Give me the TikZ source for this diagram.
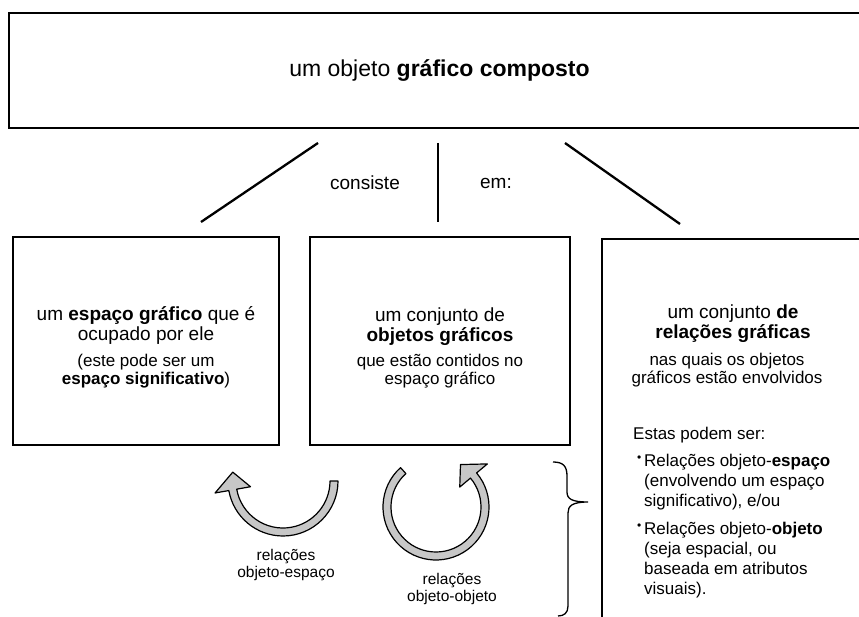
\documentclass[tikz,border=0pt]{standalone}
\usepackage{fontspec}
\setmainfont{Liberation Sans}
\newcommand{\itembullet}{\llap{\raisebox{5pt}{\fontsize{12}{12}\selectfont\textbullet}\,}}
\begin{document}
\begin{tikzpicture}[x=1pt,y=-1pt,
    box/.style={draw, line width=1.4pt, inner sep=0pt},
    headtxt/.style={align=center, inner sep=0pt, font=\fontsize{19}{20}\selectfont},
    subtxt/.style={align=center, inner sep=0pt, font=\fontsize{17}{18.5}\selectfont},
    listtxt/.style={align=left, inner sep=0pt, font=\fontsize{17}{20}\selectfont},
    reltxt/.style={align=center, inner sep=0pt, font=\fontsize{15.5}{17}\selectfont},
    conn/.style={line width=2.3pt},
    arrowband/.style={fill=black!22, draw=black, line width=1.2pt, line join=round}]
\useasboundingbox (0,0) rectangle (859,617);

% caixas
\node[box, minimum width=861pt, minimum height=115pt, font=\fontsize{23}{26}\selectfont]
    (obj) at (439.5,70.5) {um objeto \textbf{gráfico composto}};
\node[box, minimum width=266pt, minimum height=208pt] (espaco) at (146,341) {};
\node[box, minimum width=260pt, minimum height=208pt] (objetos) at (440,341) {};
\draw[line width=1.4pt] (863,239) -- (602,239) -- (602,630);

% textos das caixas
\node[headtxt] (espacoA) at (146,325) {um \textbf{espaço gráfico} que é\\ocupado por ele};
\node[subtxt] (espacoB) at (146,371) {(este pode ser um\\\textbf{espaço significativo})};
\node[headtxt] (objetosA) at (440,327) {um conjunto de\\\textbf{objetos gráficos}};
\node[subtxt] (objetosB) at (440,371) {que estão contidos no\\espaço gráfico};
\node[headtxt] (relA) at (733,323.5) {um conjunto \textbf{de}\\\textbf{relações gráficas}};
\node[subtxt] (relB) at (727,370) {nas quais os objetos\\gráficos estão envolvidos};
\node[listtxt, anchor=west] (estas) at (633,435) {Estas podem ser:};
\node[listtxt, anchor=west] (item1) at (644,482)
    {\itembullet Relações objeto-\textbf{espaço}\\(envolvendo um espaço\\significativo), e/ou};
\node[listtxt, anchor=west] (item2) at (644,560)
    {\itembullet Relações objeto-\textbf{objeto}\\(seja espacial, ou\\baseada em atributos\\visuais).};

% consiste em:
\coordinate (c1) at (318,143);
\coordinate (c2) at (201,222);
\coordinate (c3) at (438,143);
\coordinate (c4) at (438,222);
\coordinate (c5) at (565,143);
\coordinate (c6) at (680,224);
\draw[conn] (c1) -- (c2);
\draw[conn] (c3) -- (c4);
\draw[conn] (c5) -- (c6);
\node[headtxt] (consiste) at (365,183) {consiste};
\node[headtxt] (em) at (496,183) {em:};

% setas curvas
\begin{scope}[shift={(283,481)}]
  \filldraw[arrowband] (0:55) arc[start angle=0, end angle=170, radius=55]
      -- (170:69) -- (190:51) -- (170:33) -- (170:47)
      arc[start angle=170, end angle=0, radius=47] -- cycle;
\end{scope}
\begin{scope}[shift={(436,507)}]
  \filldraw[arrowband] (228:53) arc[start angle=228, end angle=-40, radius=53]
      -- (-40:67) -- (-60:49) -- (-40:31) -- (-40:45)
      arc[start angle=-40, end angle=228, radius=45] -- cycle;
\end{scope}
\node[reltxt] (relEsp) at (286,565) {relações\\objeto-espaço};
\node[reltxt] (relObj) at (452,589) {relações\\objeto-objeto};

% chave
\draw[line width=1.3pt] (553,462) .. controls (563,462) and (567,466) .. (567,476)
    -- (567,492) .. controls (567,499) and (572,502) .. (588,502)
    .. controls (572,502) and (568,506) .. (568,513)
    -- (568,606) .. controls (568,613) and (564,616) .. (558,616);
\end{tikzpicture}
\end{document}
